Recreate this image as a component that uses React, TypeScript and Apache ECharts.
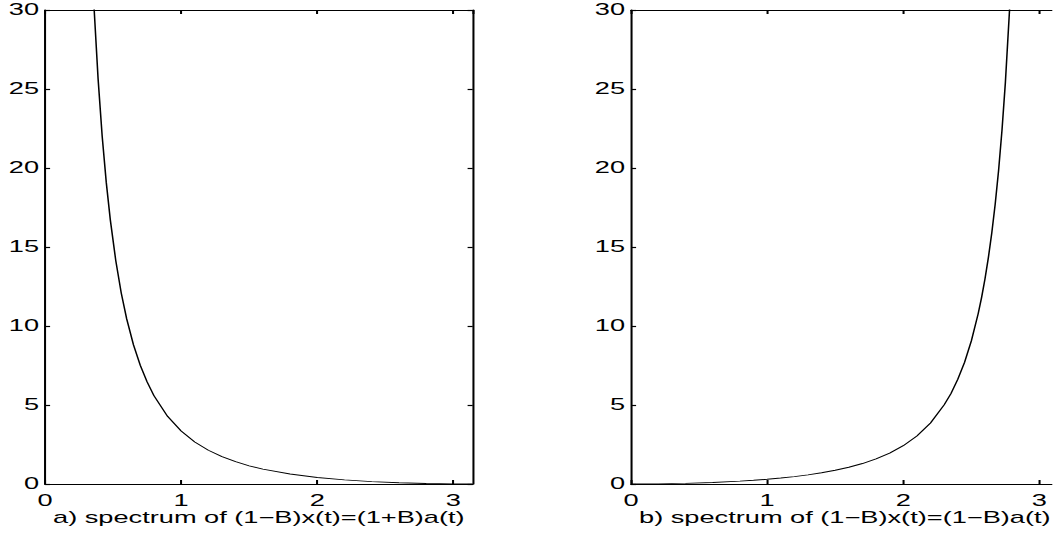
import React, { useEffect, useRef } from "react";
import * as echarts from "echarts";

// Panel a) spectrum of (1−B)x(t)=(1+B)a(t)
const leftX = [0.30, 0.33, 0.36, 0.39, 0.42, 0.45, 0.48, 0.52, 0.56, 0.60, 0.65, 0.70, 0.75, 0.80, 0.90, 1.00, 1.10, 1.20, 1.30, 1.40, 1.50, 1.60, 1.80, 2.00, 2.20, 2.40, 2.60, 2.80, 3.00, 3.1416];
const leftY = [43.78, 36.06, 30.20, 25.64, 22.01, 19.09, 16.70, 14.13, 12.09, 10.45, 8.804, 7.505, 6.463, 5.594, 4.285, 3.351, 2.660, 2.137, 1.730, 1.410, 1.152, 0.943, 0.630, 0.412, 0.259, 0.151, 0.077, 0.030, 0.005, 0];

// Panel b) spectrum of (1−B)x(t)=(1−B)a(t)
const rightX = [0, 0.2, 0.4, 0.6, 0.8, 0.9, 1.0, 1.1, 1.2, 1.3, 1.4, 1.5, 1.6, 1.7, 1.8, 1.9, 2.0, 2.1, 2.2, 2.3, 2.35, 2.4, 2.45, 2.5, 2.55, 2.575, 2.6, 2.625, 2.65, 2.675, 2.7, 2.725, 2.75, 2.78, 2.8, 2.85];
const rightY = [0, 0.010, 0.041, 0.096, 0.179, 0.233, 0.298, 0.376, 0.468, 0.578, 0.709, 0.868, 1.060, 1.296, 1.588, 1.956, 2.426, 3.036, 3.860, 5.005, 5.717, 6.616, 7.693, 9.058, 10.775, 11.795, 12.975, 14.326, 15.888, 17.708, 19.847, 22.385, 25.42, 29.93, 33.62, 46.38];

const titles = ["a) spectrum of (1\u2212B)x(t)=(1+B)a(t)", "b) spectrum of (1\u2212B)x(t)=(1\u2212B)a(t)"];

const X_MAX = Math.PI;
const Y_MAX = 30;
const STRETCH = 1.7;
const FONT = "'Liberation Sans', Arial, Helvetica, sans-serif";
const FS = 16;

export default function App() {
  const ref = useRef<HTMLDivElement>(null);
  useEffect(() => {
    document.body.style.margin = "0";
    document.body.style.overflow = "hidden";
    const chart = echarts.init(ref.current!, undefined, { renderer: "svg" });
    const lineStyle = { color: "#000", width: 1.2 };
    const grids = [
      { left: 45 / STRETCH, top: 10, width: 427.7 / STRETCH, height: 474, outerBoundsMode: "none", containLabel: false },
      { left: 631 / STRETCH, top: 10, width: 427.7 / STRETCH, height: 474, outerBoundsMode: "none", containLabel: false },
    ];
    const xAxes: any[] = [];
    const yAxes: any[] = [];
    grids.forEach((_, gi) => {
      xAxes.push({
        type: "value", gridIndex: gi, position: "bottom", min: 0, max: X_MAX, interval: 1,
        name: titles[gi], nameLocation: "middle", nameGap: 26, nameMoveOverlap: false,
        nameTextStyle: { color: "#000", fontFamily: FONT, fontSize: FS, verticalAlign: "top" },
        axisLine: { show: true, onZero: false, lineStyle },
        axisTick: { show: true, inside: true, length: 4, lineStyle },
        axisLabel: {
          color: "#000", fontFamily: FONT, fontSize: FS, margin: 9, showMaxLabel: false,
          formatter: (v: number) => (Number.isInteger(v) ? String(v) : ""),
        },
        splitLine: { show: false },
      });
      xAxes.push({
        type: "value", gridIndex: gi, position: "top", min: 0, max: X_MAX, interval: 1,
        axisLine: { show: true, onZero: false, lineStyle },
        axisTick: { show: true, inside: true, length: 4, lineStyle },
        axisLabel: { show: false },
        splitLine: { show: false },
      });
      yAxes.push({
        type: "value", gridIndex: gi, position: "left", min: 0, max: Y_MAX, interval: 5,
        axisLine: { show: true, onZero: false, lineStyle },
        axisTick: { show: true, inside: true, length: 3, lineStyle },
        axisLabel: { color: "#000", fontFamily: FONT, fontSize: FS, margin: 3.5 },
        splitLine: { show: false },
      });
      yAxes.push({
        type: "value", gridIndex: gi, position: "right", min: 0, max: Y_MAX, interval: 5,
        axisLine: { show: true, onZero: false, lineStyle },
        axisTick: { show: true, inside: true, length: 3, lineStyle },
        axisLabel: { show: false },
        splitLine: { show: false },
      });
    });
    const curve = { color: "#000", width: 0.9 };
    chart.setOption({
      animation: false,
      grid: grids,
      xAxis: xAxes,
      yAxis: yAxes,
      series: [
        {
          type: "line", xAxisIndex: 0, yAxisIndex: 0, showSymbol: false, clip: true,
          lineStyle: curve, data: leftX.map((x, i) => [x, leftY[i]]),
        },
        {
          type: "line", xAxisIndex: 2, yAxisIndex: 2, showSymbol: false, clip: true,
          lineStyle: curve, data: rightX.map((x, i) => [x, rightY[i]]),
        },
      ],
    });
    return () => chart.dispose();
  }, []);
  return (
    <div style={{ width: 1053, height: 535, overflow: "hidden", background: "#fff" }}>
      <div
        ref={ref}
        style={{
          width: 1053 / STRETCH,
          height: 535,
          transform: `scaleX(${STRETCH})`,
          transformOrigin: "0 0",
        }}
      />
    </div>
  );
}
